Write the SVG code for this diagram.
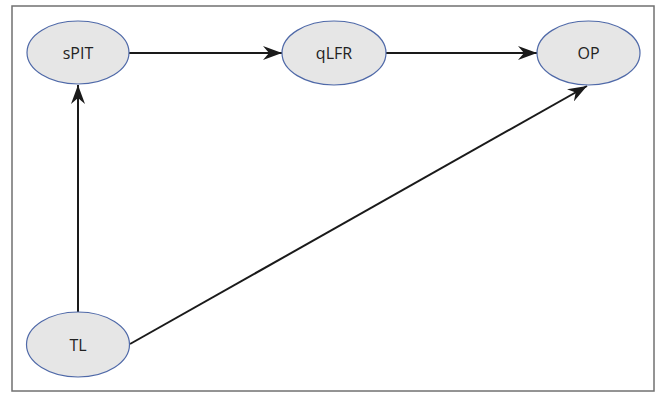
<svg xmlns="http://www.w3.org/2000/svg" width="660" height="394" viewBox="0 0 660 394">
<style>
.node ellipse{fill:#e6e6e6;stroke:#4f69a8;stroke-width:1.2}
.node text{font-family:"Open Sans","Liberation Sans",sans-serif;font-size:16px;fill:#222;text-anchor:middle;dominant-baseline:central}
.edge{stroke:#1a1a1a;stroke-width:2;fill:none;marker-end:url(#ah)}
</style>
<defs>
<marker id="ah" viewBox="0 0 19 14" refX="19" refY="7" markerWidth="19" markerHeight="14" markerUnits="userSpaceOnUse" orient="auto">
<path d="M0,0 L19,7 L0,14 L6,7 Z" fill="#1a1a1a"/>
</marker>
</defs>
<rect x="0" y="0" width="660" height="394" fill="#fff"/>
<rect x="12" y="6" width="642" height="385" fill="none" stroke="#707070" stroke-width="1.5"/>
<g id="connectors">
<line class="edge" x1="129" y1="53" x2="282" y2="53"/>
<line class="edge" x1="386" y1="53" x2="537" y2="53"/>
<line class="edge" x1="78" y1="312" x2="78" y2="85"/>
<line class="edge" x1="130" y1="344" x2="587" y2="86"/>
</g>
<g id="sPIT" class="node"><ellipse cx="78" cy="52.5" rx="51" ry="31.5"/><text x="78" y="53">sPIT</text></g>
<g id="qLFR" class="node"><ellipse cx="334" cy="53" rx="52" ry="32"/><text x="334" y="53">qLFR</text></g>
<g id="OP" class="node"><ellipse cx="588.5" cy="53" rx="51.5" ry="32"/><text x="588.5" y="53">OP</text></g>
<g id="TL" class="node"><ellipse cx="78" cy="344.5" rx="51.5" ry="32.5"/><text x="78" y="345">TL</text></g>
</svg>
